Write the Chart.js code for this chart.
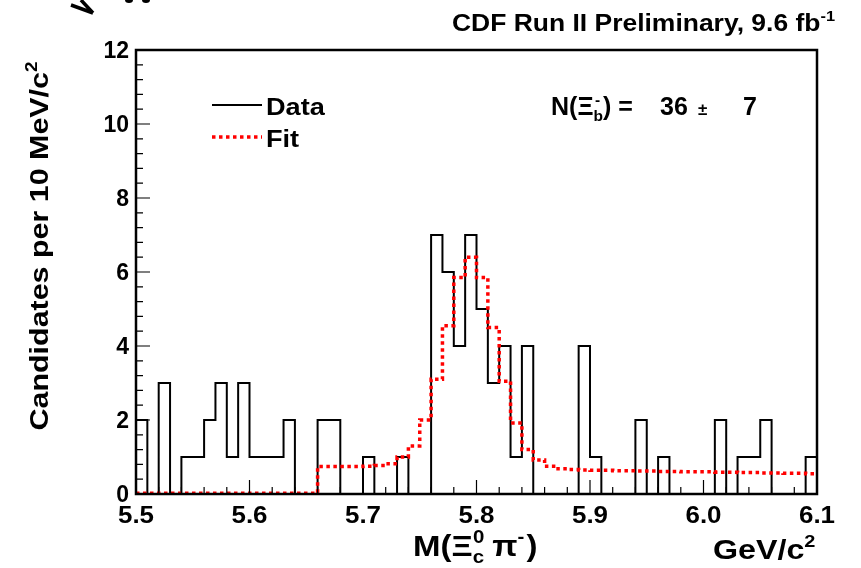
<!DOCTYPE html>
<html>
<head>
<meta charset="utf-8">
<script src="https://cdn.jsdelivr.net/npm/chart.js@4.4.1/dist/chart.umd.min.js"></script>
<style>
  html, body { margin: 0; padding: 0; background: #fff; }
  #wrap { width: 861px; height: 568px; }
</style>
</head>
<body>
<div id="wrap"><canvas id="myChart" width="861" height="568"></canvas></div>
<script>
// Histogram binning: 10 MeV bins from 5.5 to 6.1 GeV/c^2
var binLow = 5.5;
var binWidth = 0.01;

// Candidates per bin (data)
var dataCounts = [2, 0, 3, 0, 1, 1, 2, 3, 1, 3,
                  1, 1, 1, 2, 0, 0, 2, 2, 0, 0,
                  1, 0, 0, 1, 0, 0, 7, 6, 4, 7,
                  5, 3, 4, 1, 4, 0, 0, 0, 0, 4,
                  1, 0, 0, 0, 2, 0, 1, 0, 0, 0,
                  0, 2, 0, 1, 1, 2, 0, 0, 0, 1];

// Fit per bin
var fitValues = [0.02, 0.02, 0.02, 0.02, 0.02, 0.02, 0.02, 0.02, 0.02, 0.02,
                 0.02, 0.02, 0.02, 0.02, 0.02, 0.02, 0.74, 0.74, 0.74, 0.74,
                 0.75, 0.77, 0.82, 1.0, 1.3, 2.0, 3.1, 4.55, 5.85, 6.4,
                 5.85, 4.5, 3.05, 1.92, 1.2, 0.92, 0.75, 0.68, 0.66, 0.65,
                 0.64, 0.64, 0.63, 0.63, 0.62, 0.62, 0.61, 0.61, 0.6, 0.6,
                 0.6, 0.59, 0.59, 0.58, 0.58, 0.57, 0.57, 0.56, 0.56, 0.55];

// Axis ticks
var xTicks = [5.5, 5.6, 5.7, 5.8, 5.9, 6.0, 6.1];
var xTickLabels = ['5.5', '5.6', '5.7', '5.8', '5.9', '6.0', '6.1'];
var yTicks = [0, 2, 4, 6, 8, 10, 12];
var yTickLabels = ['0', '2', '4', '6', '8', '10', '12'];

var FONT = '"Liberation Sans", Arial, Helvetica, sans-serif';

// bin contents -> step points on the bin edges
function toSteps(values) {
    var pts = [{ x: binLow, y: values[0] }];
    values.forEach(function(v, i) {
        pts.push({ x: binLow + (i + 1) * binWidth, y: v });
    });
    return pts;
}

// pieces of text (normal / sup / sub), left aligned at x, stretched by sx
function partsWidth(ctx, parts, size) {
    var w = 0;
    parts.forEach(function(p) {
        var s = p.small ? size * 0.62 : size;
        ctx.font = 'bold ' + s + 'px ' + FONT;
        w += ctx.measureText(p.t).width + (p.gap || 0);
    });
    return w;
}
function richText(ctx, x, y, parts, size, sx, align) {
    sx = sx || 1;
    ctx.save();
    ctx.translate(x, y);
    ctx.scale(sx, 1);
    var cx = 0;
    if (align === 'right') cx = -partsWidth(ctx, parts, size);
    if (align === 'center') cx = -partsWidth(ctx, parts, size) / 2;
    parts.forEach(function(p) {
        var s = p.small ? size * 0.62 : size;
        ctx.font = 'bold ' + s + 'px ' + FONT;
        var dy = p.sup ? -size * 0.42 : (p.sub ? size * 0.22 : 0);
        ctx.fillText(p.t, cx, dy);
        cx += ctx.measureText(p.t).width + (p.gap || 0);
    });
    ctx.restore();
}

var decorations = {
    id: 'decorations',
    afterDraw: function(chart) {
        var ctx = chart.ctx;
        var a = chart.chartArea;
        var xs = chart.scales.x, ys = chart.scales.y;
        ctx.save();
        ctx.strokeStyle = '#000';
        ctx.fillStyle = '#000';

        // inner ticks
        ctx.lineWidth = 1.2;
        ctx.beginPath();
        for (var i = 0; i <= 30; i++) {
            var px = xs.getPixelForValue(binLow + i * 0.02);
            var len = (i % 5 === 0) ? 14 : 7;
            ctx.moveTo(px, a.bottom);
            ctx.lineTo(px, a.bottom - len);
        }
        for (var j = 0; j <= 30; j++) {
            var py = ys.getPixelForValue(j * 0.4);
            var l2 = (j % 5 === 0) ? 14 : 7;
            ctx.moveTo(a.left, py);
            ctx.lineTo(a.left + l2, py);
        }
        ctx.stroke();

        // frame
        ctx.lineWidth = 2.5;
        ctx.strokeRect(a.left, a.top, a.right - a.left, a.bottom - a.top);

        ctx.textBaseline = 'alphabetic';

        // tick labels
        xTicks.forEach(function(v, k) {
            richText(ctx, xs.getPixelForValue(v), 523, [{ t: xTickLabels[k] }], 24, 1.08, 'center');
        });
        yTicks.forEach(function(v, k) {
            richText(ctx, 129, ys.getPixelForValue(v) + 8, [{ t: yTickLabels[k] }], 23, 1.0, 'right');
        });

        // top label
        richText(ctx, 835, 31, [{ t: 'CDF Run II Preliminary, 9.6 fb' },
                                { t: '-1', sup: true, small: true }], 23, 1.15, 'right');

        // y title
        ctx.save();
        ctx.translate(48, 246);
        ctx.rotate(-Math.PI / 2);
        richText(ctx, 0, 0, [{ t: 'Candidates per 10 MeV/c' },
                             { t: '2', sup: true, small: true }], 26, 1.17, 'center');
        ctx.restore();

        // x title
        richText(ctx, 413, 556, [
            { t: 'M(\u039E' }, { t: 'c', sub: true, small: true, gap: -10 },
            { t: '0', sup: true, small: true, gap: 7 },
            { t: '\u03C0' }, { t: '-', sup: true, small: true, gap: 2 }, { t: ')' }
        ], 30, 1.1);
        richText(ctx, 713, 559, [{ t: 'GeV/c' }, { t: '2', sup: true, small: true }], 28, 1.15);

        // legend
        ctx.lineWidth = 2;
        ctx.beginPath();
        ctx.moveTo(212, 105);
        ctx.lineTo(262, 105);
        ctx.stroke();
        ctx.strokeStyle = '#ff0000';
        ctx.lineWidth = 3.5;
        ctx.setLineDash([3.5, 3.5]);
        ctx.beginPath();
        ctx.moveTo(212, 137);
        ctx.lineTo(262, 137);
        ctx.stroke();
        ctx.setLineDash([]);
        richText(ctx, 266, 115, [{ t: 'Data' }], 24, 1.13);
        richText(ctx, 266, 147, [{ t: 'Fit' }], 24, 1.13);

        // fitted yield
        richText(ctx, 551, 115, [
            { t: 'N(\u039E' }, { t: 'b', sub: true, small: true, gap: -8 },
            { t: '-', sup: true, small: true, gap: 3 }, { t: ') =' }
        ], 25);
        richText(ctx, 660, 115, [{ t: '36' }], 25);
        richText(ctx, 698, 115, [{ t: '\u00B1' }], 17);
        richText(ctx, 743, 115, [{ t: '7' }], 25);

        // leftover arrow head at the top-left corner
        ctx.strokeStyle = '#000';
        ctx.lineWidth = 3.5;
        ctx.beginPath();
        ctx.moveTo(71, 5);
        ctx.lineTo(93, 13);
        ctx.moveTo(81, 0);
        ctx.lineTo(93, 13);
        ctx.stroke();
        ctx.beginPath();
        ctx.ellipse(129, 0, 4, 3, 0, 0, Math.PI * 2);
        ctx.ellipse(146, 0, 4, 3, 0, 0, Math.PI * 2);
        ctx.fill();
        ctx.restore();
    }
};

var ctx = document.getElementById('myChart').getContext('2d');
var myChart = new Chart(ctx, {
    type: 'line',
    data: {
        datasets: [{
            label: 'Fit',
            data: toSteps(fitValues),
            stepped: 'after',
            borderColor: '#ff0000',
            borderWidth: 3.5,
            borderDash: [3.5, 3.5],
            pointRadius: 0,
            fill: false,
            order: 0
        }, {
            label: 'Data',
            data: toSteps(dataCounts),
            stepped: 'after',
            borderColor: '#000000',
            borderWidth: 2,
            pointRadius: 0,
            fill: false,
            order: 1
        }]
    },
    options: {
        responsive: false,
        animation: false,
        layout: { padding: { left: 0, right: 44, top: 50, bottom: 0 } },
        plugins: {
            legend: { display: false },
            tooltip: { enabled: false }
        },
        scales: {
            x: {
                type: 'linear',
                min: 5.5,
                max: 6.1,
                grid: { display: false, drawTicks: false },
                border: { display: false },
                ticks: { display: false },
                afterBuildTicks: function(scale) {
                    scale.ticks = xTicks.map(function(v) { return { value: v }; });
                },
                afterFit: function(scale) {
                    scale.height = 74;
                    scale.paddingLeft = 0; scale.paddingRight = 0;
                }
            },
            y: {
                min: 0,
                max: 12,
                grid: { display: false, drawTicks: false },
                border: { display: false },
                ticks: { display: false },
                afterBuildTicks: function(scale) {
                    scale.ticks = yTicks.map(function(v) { return { value: v }; });
                },
                afterFit: function(scale) {
                    scale.width = 136;
                    scale.paddingTop = 0; scale.paddingBottom = 0;
                }
            }
        }
    },
    plugins: [decorations]
});
</script>
</body>
</html>
